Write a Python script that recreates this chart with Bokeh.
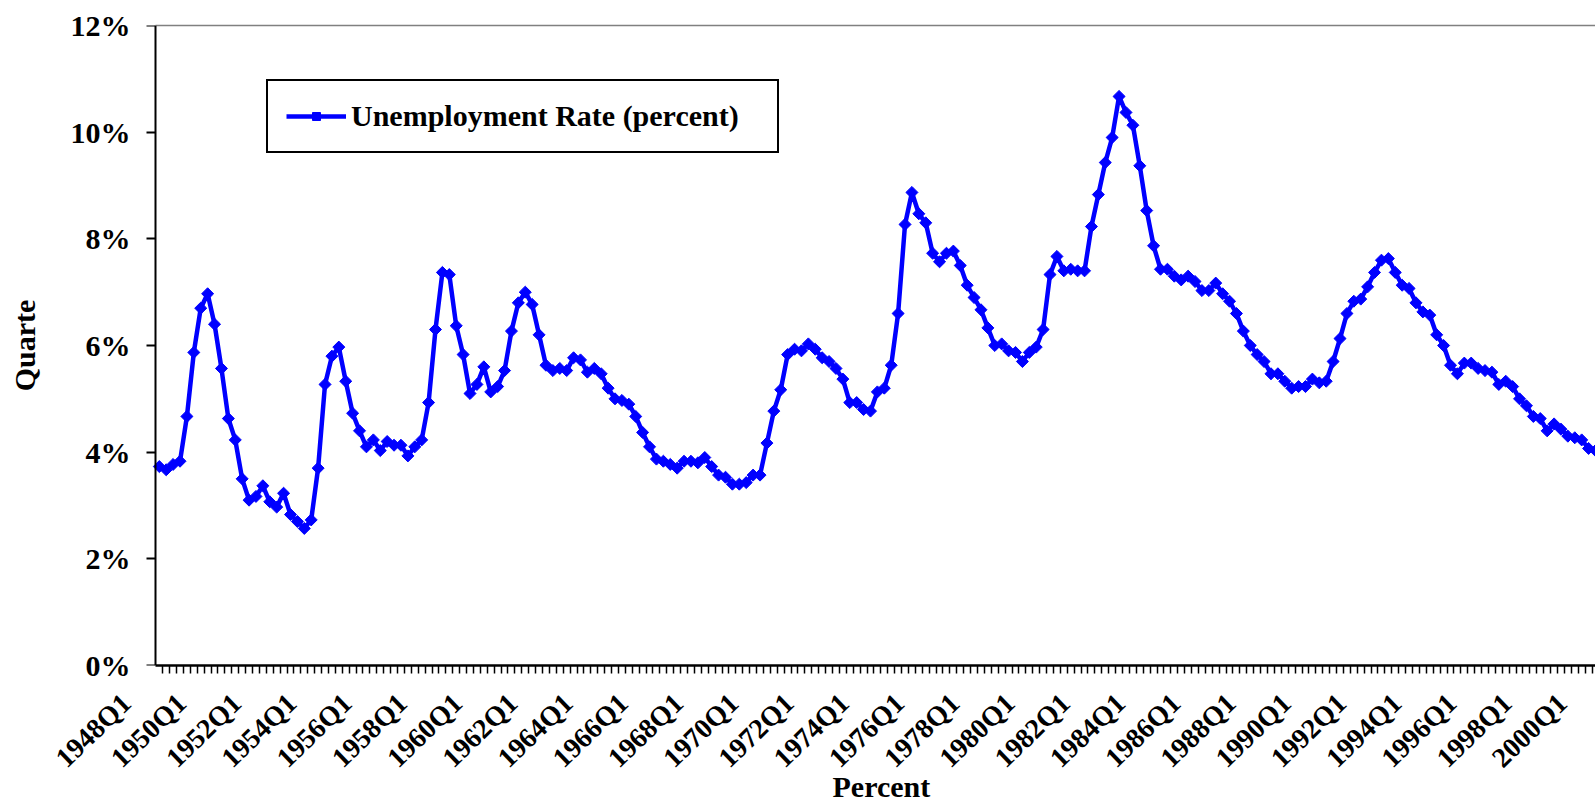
from math import pi

from bokeh.embed import file_html
from bokeh.models import (ColumnDataSource, FixedTicker, Legend, LegendItem,
                          LinearAxis, Range1d, Title)
from bokeh.plotting import figure
from bokeh.resources import INLINE

FIRST_YEAR = 1948

# Civilian unemployment rate, quarterly averages (percent)
unemployment_rate = [
    3.73, 3.67, 3.77, 3.83,    # 1948
    4.67, 5.87, 6.70, 6.97,    # 1949
    6.40, 5.57, 4.63, 4.23,    # 1950
    3.50, 3.10, 3.17, 3.37,    # 1951
    3.07, 2.97, 3.23, 2.83,    # 1952
    2.70, 2.57, 2.73, 3.70,    # 1953
    5.27, 5.80, 5.97, 5.33,    # 1954
    4.73, 4.40, 4.10, 4.23,    # 1955
    4.03, 4.20, 4.13, 4.13,    # 1956
    3.93, 4.10, 4.23, 4.93,    # 1957
    6.30, 7.37, 7.33, 6.37,    # 1958
    5.83, 5.10, 5.27, 5.60,    # 1959
    5.13, 5.23, 5.53, 6.27,    # 1960
    6.80, 7.00, 6.77, 6.20,    # 1961
    5.63, 5.53, 5.57, 5.53,    # 1962
    5.77, 5.73, 5.50, 5.57,    # 1963
    5.47, 5.20, 5.00, 4.97,    # 1964
    4.90, 4.67, 4.37, 4.10,    # 1965
    3.87, 3.83, 3.77, 3.70,    # 1966
    3.83, 3.83, 3.80, 3.90,    # 1967
    3.73, 3.57, 3.53, 3.40,    # 1968
    3.40, 3.43, 3.57, 3.57,    # 1969
    4.17, 4.77, 5.17, 5.83,    # 1970
    5.93, 5.90, 6.03, 5.93,    # 1971
    5.77, 5.70, 5.57, 5.37,    # 1972
    4.93, 4.93, 4.80, 4.77,    # 1973
    5.13, 5.20, 5.63, 6.60,    # 1974
    8.27, 8.87, 8.47, 8.30,    # 1975
    7.73, 7.57, 7.73, 7.77,    # 1976
    7.50, 7.13, 6.90, 6.67,    # 1977
    6.33, 6.00, 6.03, 5.90,    # 1978
    5.87, 5.70, 5.87, 5.97,    # 1979
    6.30, 7.33, 7.67, 7.40,    # 1980
    7.43, 7.40, 7.40, 8.23,    # 1981
    8.83, 9.43, 9.90, 10.67,   # 1982
    10.37, 10.13, 9.37, 8.53,  # 1983
    7.87, 7.43, 7.43, 7.30,    # 1984
    7.23, 7.30, 7.20, 7.03,    # 1985
    7.03, 7.17, 6.97, 6.83,    # 1986
    6.60, 6.27, 6.00, 5.83,    # 1987
    5.70, 5.47, 5.47, 5.33,    # 1988
    5.20, 5.23, 5.23, 5.37,    # 1989
    5.30, 5.33, 5.70, 6.13,    # 1990
    6.60, 6.83, 6.87, 7.10,    # 1991
    7.37, 7.60, 7.63, 7.37,    # 1992
    7.13, 7.07, 6.80, 6.63,    # 1993
    6.57, 6.20, 6.00, 5.63,    # 1994
    5.47, 5.67, 5.67, 5.57,    # 1995
    5.53, 5.50, 5.27, 5.33,    # 1996
    5.23, 5.00, 4.87, 4.67,    # 1997
    4.63, 4.40, 4.53, 4.43,    # 1998
    4.30, 4.27, 4.23, 4.07,    # 1999
    4.03,                      # 2000
]

quarters = [f"{FIRST_YEAR + i // 4}Q{i % 4 + 1}" for i in range(len(unemployment_rate))]

x_tick_labels = [
    "1948Q1", "1950Q1", "1952Q1", "1954Q1", "1956Q1", "1958Q1", "1960Q1",
    "1962Q1", "1964Q1", "1966Q1", "1968Q1", "1970Q1", "1972Q1", "1974Q1",
    "1976Q1", "1978Q1", "1980Q1", "1982Q1", "1984Q1", "1986Q1", "1988Q1",
    "1990Q1", "1992Q1", "1994Q1", "1996Q1", "1998Q1", "2000Q1",
]
y_tick_values = [0, 2, 4, 6, 8, 10, 12]
y_tick_labels = ["0%", "2%", "4%", "6%", "8%", "10%", "12%"]

series_label = "Unemployment Rate (percent)"
x_title = "Percent"
y_title = "Quarte"

FONT = "Liberation Serif"
BLUE = "#0000FF"

# plot area in quarter units; the slanted labels hang a little to the left of it
AREA_START, AREA_END = -0.55, 208.0
VIEW_START = -5.33
LABEL_SHIFT = 4.8
LABEL_ANGLE = 44 * pi / 180

positions = list(range(len(quarters)))
source = ColumnDataSource(dict(x=positions, rate=unemployment_rate, quarter=quarters))

p = figure(
    width=1595, height=805,
    x_range=Range1d(VIEW_START, AREA_END), y_range=Range1d(y_tick_values[0], y_tick_values[-1]),
    output_backend="svg", toolbar_location=None,
    min_border_left=122, min_border_right=0, min_border_top=25, min_border_bottom=140,
    background_fill_color="white", border_fill_color="white",
)
p.outline_line_color = None
p.grid.visible = False

line_r = p.line("x", "rate", source=source, line_color=BLUE, line_width=4.5)
dots_r = p.scatter("x", "rate", source=source, marker="square", size=8.5, angle=pi / 4,
                   fill_color=BLUE, line_color=BLUE, line_width=1)

# value axis line and ticks, pinned to the left edge of the plot area
yaxis = p.yaxis[0]
yaxis.fixed_location = AREA_START
yaxis.ticker = FixedTicker(ticks=y_tick_values)
yaxis.major_label_overrides = {v: "" for v in y_tick_values}
yaxis.axis_line_color = "black"
yaxis.axis_line_width = 2
yaxis.major_tick_line_color = "black"
yaxis.major_tick_line_width = 2
yaxis.major_tick_in = 0
yaxis.major_tick_out = 9
yaxis.minor_tick_line_color = None

# percentage labels and the axis title
y_label_axis = LinearAxis(
    ticker=FixedTicker(ticks=y_tick_values),
    major_label_overrides=dict(zip(y_tick_values, y_tick_labels)),
    axis_line_color=None,
    major_tick_out=0, major_tick_in=0, minor_tick_out=0, minor_tick_in=0,
    major_label_standoff=-8,
    major_label_text_font=FONT, major_label_text_font_style="bold",
    major_label_text_font_size="30px", major_label_text_color="black",
    axis_label=y_title, axis_label_standoff=27,
    axis_label_text_font=FONT, axis_label_text_font_style="bold",
    axis_label_text_font_size="30px", axis_label_text_color="black",
)
p.add_layout(y_label_axis, "left")

# category axis: a tick mark between every pair of quarters
xaxis = p.xaxis[0]
xaxis.bounds = (AREA_START, AREA_END)
xaxis.ticker = FixedTicker(ticks=[], minor_ticks=[i + 0.5 for i in positions])
xaxis.axis_line_color = "black"
xaxis.axis_line_width = 2.5
xaxis.minor_tick_line_color = "black"
xaxis.minor_tick_line_width = 1.5
xaxis.minor_tick_in = 0
xaxis.minor_tick_out = 8
xaxis.major_tick_in = 0
xaxis.major_tick_out = 0
xaxis.major_label_standoff = 0

# slanted quarter labels every two years
label_positions = [quarters.index(q) - LABEL_SHIFT for q in x_tick_labels]
x_label_axis = LinearAxis(
    ticker=FixedTicker(ticks=label_positions),
    major_label_overrides=dict(zip(label_positions, x_tick_labels)),
    major_label_orientation=LABEL_ANGLE,
    axis_line_color=None,
    major_tick_out=0, major_tick_in=0, minor_tick_out=0, minor_tick_in=0,
    major_label_standoff=25,
    major_label_text_font=FONT, major_label_text_font_style="bold",
    major_label_text_font_size="28px", major_label_text_color="black",
)
p.add_layout(x_label_axis, "below")

# x axis title, centred under the whole plot area
p.add_layout(Title(
    text=x_title, align="left", offset=710, vertical_align="top", standoff=-36,
    text_font=FONT, text_font_style="bold", text_font_size="30px", text_color="black",
), "below")

# grey top edge of the plot area
top_edge = LinearAxis(
    bounds=(AREA_START, AREA_END), ticker=FixedTicker(ticks=[]),
    axis_line_color="#808080", axis_line_width=1.5,
    major_tick_out=0, major_tick_in=0, minor_tick_out=0, minor_tick_in=0,
    major_label_standoff=0,
)
p.add_layout(top_edge, "above")

legend = Legend(
    items=[LegendItem(label=series_label, renderers=[line_r, dots_r])],
    location=(144, 512),
    border_line_color="black", border_line_width=2, border_line_alpha=1,
    background_fill_color="white", background_fill_alpha=1,
    padding=18, spacing=0, margin=0,
    glyph_width=60, glyph_height=20, label_standoff=5, label_width=408,
    label_text_font=FONT, label_text_font_style="bold",
    label_text_font_size="30px", label_text_color="black",
)
p.add_layout(legend)

open("out.html", "w").write(file_html(p, INLINE))
